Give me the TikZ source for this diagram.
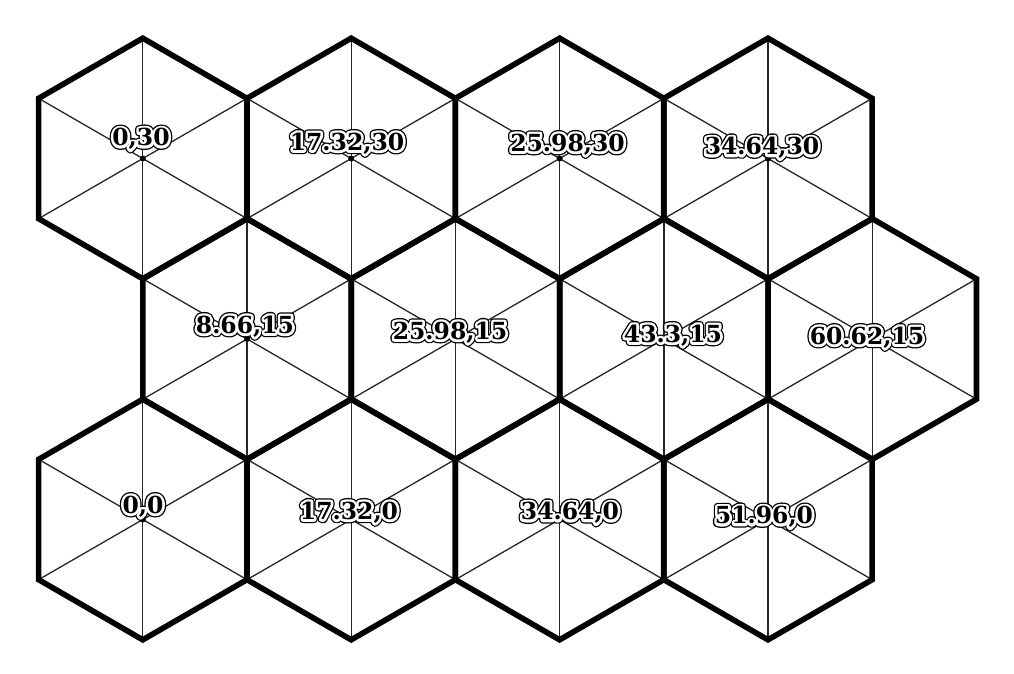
\documentclass[tikz,border=0pt]{standalone}
\usepackage{fontspec}
\usetikzlibrary{calc}
\newfontfamily\lblfont{DejaVu Serif Bold}
\newfontfamily\lblfontW[FakeBold=22]{DejaVu Serif Bold}
\newfontfamily\lblfontK[FakeBold=33]{DejaVu Serif Bold}
\newcommand\hexR{120.3}
\newcommand\hlbl[4]{%
  \node[lbl,font=\lblfontK\lblsize,text=black] at (#2,#3) {#4};
  \node[lbl,font=\lblfontW\lblsize,text=white] at (#2,#3) {#4};
  \node[lbl,font=\lblfont\lblsize,text=black] (#1) at (#2,#3) {#4};}
\newcommand\lblsize{\fontsize{23.5}{25}\selectfont}
\begin{document}
\begin{tikzpicture}[x=1pt,y=-1pt,
  hexedge/.style={line width=5.6pt,line join=miter},
  spoke/.style={line width=1.3pt,black!85},
  cdot/.style={fill=black},
  lbl/.style={inner sep=0pt,line join=round,line cap=round}]
\fill[white] (0,0) rectangle (1014,673);
\useasboundingbox (0,0) rectangle (1014,673);
% centres
\foreach \row/\yy/\xs in {0/158.5/142.8,1/339/247.1,2/519.5/142.8}{
  \foreach \i in {0,...,3}{
    \coordinate (c\row\i) at ({\xs+\i*208.4},\yy);
  }
}
% spokes
\foreach \row in {0,1,2}{
  \foreach \i in {0,...,3}{
    \foreach \a in {30,90,...,330}{
      \draw[spoke] (c\row\i) -- ++(\a:\hexR);
    }
  }
}
% hexagon borders
\foreach \row in {0,1,2}{
  \foreach \i in {0,...,3}{
    \draw[hexedge,shift={(c\row\i)}] (30:\hexR) -- (90:\hexR) -- (150:\hexR) -- (210:\hexR) -- (270:\hexR) -- (330:\hexR) -- cycle;
  }
}
% centre dots
\foreach \row in {0,1,2}{
  \foreach \i in {0,...,3}{
    \fill[cdot] (c\row\i) circle (3pt);
  }
}
% labels
\begin{scope}[line join=round]
\hlbl{l00}{141}{139}{0,30}
\hlbl{l01}{347}{143.5}{17.32,30}
\hlbl{l02}{567.5}{144.5}{25.98,30}
\hlbl{l03}{762}{148}{34.64,30}
\hlbl{l10}{245}{326.5}{8.66,15}
\hlbl{l11}{450}{332.5}{25.98,15}
\hlbl{l12}{673}{335.5}{43.3,15}
\hlbl{l13}{867}{337.5}{60.62,15}
\hlbl{l20}{143}{506.5}{0,0}
\hlbl{l21}{349}{512.5}{17.32,0}
\hlbl{l22}{570}{513}{34.64,0}
\hlbl{l23}{764}{517}{51.96,0}
\end{scope}
\end{tikzpicture}
\end{document}
